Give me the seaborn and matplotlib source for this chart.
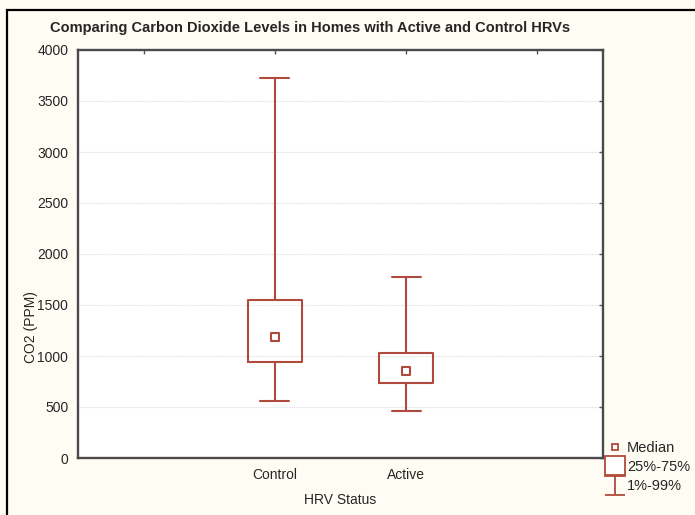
import matplotlib
matplotlib.use("Agg")
import matplotlib.pyplot as plt
import seaborn as sns
import pandas as pd
from matplotlib.lines import Line2D
from matplotlib.path import Path
from matplotlib.patches import Rectangle

# Values (CO2, ppm)
groups = ["Control", "Active"]
positions = [1, 2]
p01 = [560, 465]
q25 = [942, 736]
median = [1187, 854]
q75 = [1548, 1030]
p99 = [3725, 1772]

sns.set_style("white")
plt.rcParams["font.family"] = ["Liberation Sans", "DejaVu Sans"]

red = "#b04a3c"
fig = plt.figure(figsize=(6.95, 5.15), dpi=100, facecolor="#fffcf4")
ax = fig.add_axes([78 / 695, 1 - 458 / 515, 525 / 695, 408 / 515])
ax.set_facecolor("white")

# figure frame
fig.patches.append(Rectangle((7 / 695, -0.1), 1.2, 1 - 10 / 515 + 0.1,
                             transform=fig.transFigure, fill=False,
                             edgecolor="black", lw=1.6))

stats = []
for i, g in enumerate(groups):
    stats.append(dict(label=g, whislo=p01[i], q1=q25[i], med=median[i],
                      q3=q75[i], whishi=p99[i], fliers=[]))

ax.bxp(stats, positions=positions, widths=0.41, showfliers=False,
       boxprops=dict(color=red, lw=1.5),
       whiskerprops=dict(color=red, lw=1.5),
       capprops=dict(color=red, lw=1.5),
       medianprops=dict(visible=False), capwidths=0.22, zorder=3)

df = pd.DataFrame({"pos": positions, "median": median})
sns.scatterplot(data=df, x="pos", y="median", marker="s", s=32,
                facecolor="white", edgecolor=red, linewidth=1.5, ax=ax, zorder=4)

ax.set_xlim(-0.5, 3.5)
ax.set_ylim(0, 4000)
ax.set_xticks([0, 1, 2, 3])
ax.set_xticklabels(["", "Control", "Active", ""])
ax.set_yticks(range(0, 4001, 500))
ax.yaxis.grid(True, color="#dddddd", linestyle=(0, (1, 1)), lw=0.8)
ax.set_axisbelow(True)
ax.tick_params(direction="in", length=3, width=1, color="#555555",
               top=True, right=True, labelsize=10)
ax.tick_params(axis="x", pad=7)
ax.tick_params(axis="y", pad=7)
for s in ax.spines.values():
    s.set_color("#4a4a4a")
    s.set_linewidth(1.7)

ax.set_xlabel("HRV Status", fontsize=10)
ax.xaxis.set_label_coords(0.5, -0.085)
ax.set_ylabel("CO2 (PPM)", fontsize=10)
ax.yaxis.set_label_coords(-0.076, 0.321)

fig.text(50 / 695, 1 - 28 / 515, "Comparing Carbon Dioxide Levels in Homes with Active and Control HRVs",
         fontsize=10.5, fontweight="bold", va="center", ha="left")

# legend
ibar = Path([(-1, 1), (1, 1), (0, 1), (0, -1), (-1, -1), (1, -1)],
            [Path.MOVETO, Path.LINETO, Path.MOVETO, Path.LINETO, Path.MOVETO, Path.LINETO])
handles = [
    Line2D([], [], ls="none", marker="s", ms=5, mfc="white", mec=red, mew=1.3),
    Line2D([], [], ls="none", marker="s", ms=14, mfc="white", mec=red, mew=1.3),
    Line2D([], [], ls="none", marker=ibar, ms=14, mec=red, mew=1.3),
]
fig.legend(handles, ["Median", "25%-75%", "1%-99%"], loc="upper left",
           bbox_to_anchor=(600 / 695, 1 - 434 / 515), frameon=False,
           fontsize=10.5, handlelength=1.0, handletextpad=0.35,
           labelspacing=0.32, borderpad=0)

fig.savefig("out.png", dpi=100, facecolor=fig.get_facecolor())
